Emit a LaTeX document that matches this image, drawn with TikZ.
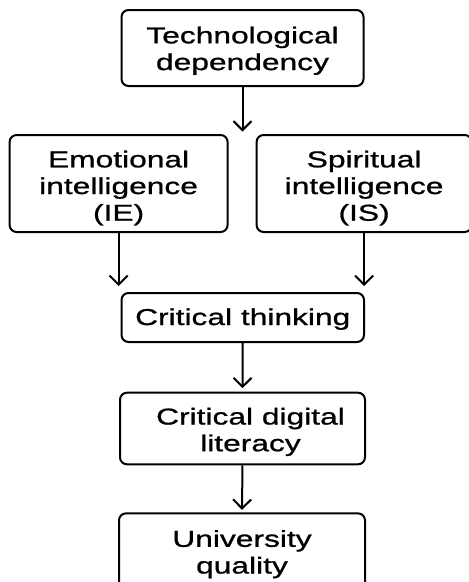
\documentclass[tikz,border=0pt]{standalone}
\usepackage{fontspec}
\setmainfont{Liberation Sans}[FakeStretch=1.38,FakeBold=0.9]
\usetikzlibrary{arrows.meta}
\tikzset{
  box/.style={draw=black, line width=2pt, rounded corners=7pt, fill=white,
    inner sep=0pt, align=center, text=black,
    font=\fontsize{23}{26.7}\selectfont},
  arr/.style={draw=black, line width=2pt,
    -{Straight Barb[length=9pt,width=18pt]}}
}
\begin{document}
\begin{tikzpicture}[x=1pt,y=-1pt]
\useasboundingbox[fill=white] (0,0) rectangle (469,582);
\node[box,minimum width=242pt,minimum height=76pt] (tech) at (242.5,48)
  {\rule{0pt}{22.2pt}Technological\\dependency};
\node[box,minimum width=218pt,minimum height=97pt] (emo) at (118.6,183.5)
  {\rule{0pt}{25.8pt}Emotional\\intelligence\\(IE)};
\node[box,minimum width=215pt,minimum height=97pt] (spi) at (364.1,183.5)
  {\rule{0pt}{25.8pt}Spiritual\\intelligence\\(IS)};
\node[box,minimum width=242.5pt,minimum height=49pt] (crit) at (242.75,317.5)
  {\rule{0pt}{19.8pt}Critical thinking};
\node[box,minimum width=245pt,minimum height=71.6pt] (cdl) at (242.5,428.5)
  {\rule{0pt}{23.5pt}\hspace*{16pt}Critical digital\\\hspace*{16pt}literacy};
\node[box,minimum width=246pt,minimum height=81.7pt] (univ) at (242,554.2)
  {University\\quality};
\coordinate (techend) at (242.5,131.5);
\draw[arr] (tech.south) -- (techend);
\draw[arr] (emo.south) -- ([yshift=6pt]emo.south |- crit.north);
\draw[arr] (spi.south) -- ([yshift=6pt]spi.south |- crit.north);
\draw[arr] (crit.south) -- ([yshift=3.5pt]cdl.north);
\draw[arr] (cdl.south) -- ([yshift=2.5pt]univ.north);
\end{tikzpicture}
\end{document}
